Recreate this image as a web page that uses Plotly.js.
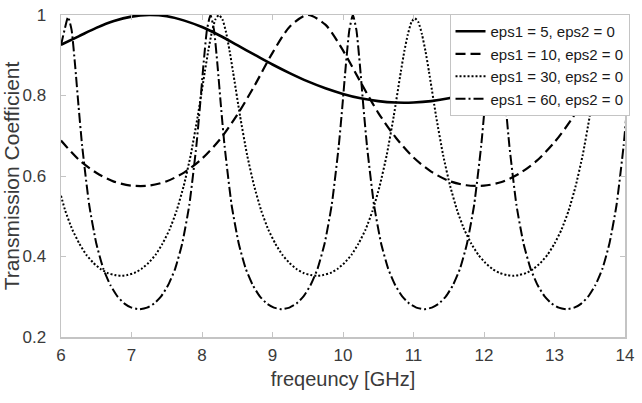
<!DOCTYPE html>
<html>
<head>
<meta charset="utf-8">
<script src="https://cdn.plot.ly/plotly-3.0.1.min.js"></script>
<style>html,body{margin:0;padding:0;background:#fff;}#chart{width:642px;height:403px;}</style>
</head>
<body>
<div id="chart"></div>
<script>
// ---- data ----
const seriesNames = ["eps1 = 5, eps2 = 0", "eps1 = 10, eps2 = 0", "eps1 = 30, eps2 = 0", "eps1 = 60, eps2 = 0"];

const freq5 = [6,6.25,6.5,6.75,7,7.25,7.5,7.75,8,8.25,8.5,8.75,9,9.25,9.5,9.75,10,10.25,10.5,10.75,11,11.25,11.5,11.75,12,12.25,12.5,12.75,13,13.25,13.5,13.75,14];
const trans5 = [0.926,0.947,0.968,0.985,0.996,1.000,0.997,0.986,0.970,0.949,0.925,0.901,0.877,0.855,0.835,0.818,0.804,0.793,0.786,0.7825,0.7826,0.786,0.793,0.804,0.818,0.836,0.856,0.878,0.902,0.927,0.950,0.970,0.987];

const freq10 = [6,6.25,6.5,6.75,7,7.25,7.5,7.75,8,8.25,8.5,8.75,9,9.25,9.5,9.75,10,10.25,10.5,10.75,11,11.25,11.5,11.75,12,12.25,12.5,12.75,13,13.25,13.5,13.75,14];
const trans10 = [0.688,0.641,0.608,0.586,0.576,0.576,0.587,0.609,0.643,0.690,0.752,0.826,0.906,0.972,1.000,0.976,0.912,0.833,0.757,0.695,0.646,0.611,0.588,0.577,0.576,0.585,0.606,0.638,0.684,0.743,0.817,0.897,0.966];

const freq30 = [6.00,6.06,6.16,6.26,6.36,6.46,6.56,6.66,6.76,6.85,
6.94,7.04,7.14,7.24,7.34,7.44,7.54,7.64,7.74,7.84,7.94,8.04,8.09,8.14,8.19,8.24,
8.29,8.34,8.39,8.44,8.54,8.64,8.74,8.84,8.94,9.04,9.14,9.24,9.34,9.44,9.54,9.63,
9.72,9.82,9.92,10.02,10.12,10.22,10.32,10.42,10.52,10.62,10.72,10.82,10.87,10.92,10.97,11.02,
11.07,11.12,11.17,11.22,11.32,11.42,11.52,11.62,11.72,11.82,11.92,12.02,12.12,12.22,12.32,12.41,
12.50,12.60,12.70,12.80,12.90,13.00,13.10,13.20,13.30,13.40,13.50,13.60,13.65,13.70,13.75,13.80,
13.85,13.90,13.95,14.00];
const trans30 = [0.551,0.514,0.467,0.432,0.404,0.384,0.369,0.359,0.354,0.352,
0.354,0.359,0.369,0.384,0.404,0.432,0.467,0.514,0.575,0.652,0.749,0.859,0.912,0.958,0.989,1.000,
0.989,0.958,0.912,0.859,0.749,0.652,0.575,0.514,0.467,0.432,0.404,0.384,0.369,0.359,0.354,0.352,
0.354,0.359,0.369,0.384,0.404,0.432,0.467,0.514,0.575,0.652,0.749,0.859,0.910,0.952,0.982,0.992,
0.982,0.952,0.910,0.859,0.749,0.652,0.575,0.514,0.467,0.432,0.404,0.384,0.369,0.359,0.354,0.352,
0.354,0.359,0.369,0.384,0.404,0.432,0.467,0.514,0.575,0.652,0.749,0.859,0.912,0.958,0.989,1.000,
0.989,0.958,0.912,0.859];

const freq60 = [6.00,6.05,6.10,
6.15,6.20,6.25,6.30,6.40,6.50,6.60,6.70,6.80,6.90,7.00,7.11,
7.22,7.32,7.42,7.52,7.62,7.72,7.82,7.92,7.97,8.02,8.07,8.12,
8.17,8.22,8.27,8.32,8.42,8.52,8.62,8.72,8.82,8.92,9.02,9.13,
9.24,9.34,9.44,9.54,9.64,9.74,9.84,9.94,9.99,10.04,10.09,10.14,
10.19,10.24,10.29,10.34,10.44,10.54,10.64,10.74,10.84,10.94,11.04,11.15,
11.26,11.36,11.46,11.56,11.66,11.76,11.86,11.96,12.01,12.06,12.11,12.16,
12.21,12.26,12.31,12.36,12.46,12.56,12.66,12.76,12.86,12.96,13.06,13.17,
13.28,13.38,13.48,13.58,13.68,13.78,13.88,13.98,14.03];
const trans60 = [0.925,0.963,0.995,
0.963,0.875,0.771,0.675,0.528,0.433,0.370,0.329,0.301,0.283,0.273,0.269,
0.273,0.283,0.301,0.329,0.370,0.433,0.528,0.675,0.771,0.875,0.963,1.000,
0.963,0.875,0.771,0.675,0.528,0.433,0.370,0.329,0.301,0.283,0.273,0.269,
0.273,0.283,0.301,0.329,0.370,0.433,0.528,0.675,0.771,0.875,0.963,1.000,
0.963,0.875,0.771,0.675,0.528,0.433,0.370,0.329,0.301,0.283,0.273,0.269,
0.273,0.283,0.301,0.329,0.370,0.433,0.528,0.675,0.771,0.875,0.963,1.000,
0.963,0.875,0.771,0.675,0.528,0.433,0.370,0.329,0.301,0.283,0.273,0.269,
0.273,0.283,0.301,0.329,0.370,0.433,0.528,0.675,0.771];

// ---- chart ----
const FONT = 'Liberation Sans, Arial, Helvetica, sans-serif';
const traces = [
  {x: freq5, y: trans5, name: seriesNames[0], mode: 'lines',
   line: {color: '#000', width: 2.6, dash: 'solid', shape: 'spline', smoothing: 0.8}},
  {x: freq10, y: trans10, name: seriesNames[1], mode: 'lines',
   line: {color: '#000', width: 2.2, dash: '10px,5px', shape: 'spline', smoothing: 0.8}},
  {x: freq30, y: trans30, name: seriesNames[2], mode: 'lines',
   line: {color: '#000', width: 2, dash: '2px,2px', shape: 'spline', smoothing: 0.5}},
  {x: freq60, y: trans60, name: seriesNames[3], mode: 'lines',
   line: {color: '#000', width: 2, dash: '10px,3px,2px,3px', shape: 'spline', smoothing: 0.5}}
];

const axisCommon = {
  showgrid: false, zeroline: false, showline: true, mirror: 'ticks',
  linecolor: '#c4c4c4', linewidth: 1.5,
  ticks: 'inside', ticklen: 5, tickcolor: '#c4c4c4', tickwidth: 1,
  tickfont: {family: FONT, size: 17, color: '#3a3a3a'}
};

const layout = {
  width: 642, height: 403,
  margin: {l: 61, r: 13, t: 15, b: 66},
  paper_bgcolor: '#fff', plot_bgcolor: '#fff',
  font: {family: FONT, color: '#3a3a3a'},
  showlegend: true,
  xaxis: Object.assign({}, axisCommon, {
    range: [6, 14], dtick: 1, tick0: 6,
    ticklabelstandoff: 2,
    title: {text: 'freqeuncy [GHz]', font: {family: FONT, size: 20, color: '#3a3a3a'}, standoff: 8}
  }),
  yaxis: Object.assign({}, axisCommon, {
    range: [0.2, 1], dtick: 0.2, tick0: 0.2,
    ticklabelstandoff: 10,
    title: {text: 'Transmission Coefficient', font: {family: FONT, size: 21, color: '#3a3a3a'}, standoff: 2}
  }),
  legend: {
    x: 1.008, xanchor: 'right', y: 1.003, yanchor: 'top',
    bgcolor: '#fff', bordercolor: '#c4c4c4', borderwidth: 1,
    font: {family: FONT, size: 15, color: '#1a1a1a'},
    itemwidth: 30, tracegroupgap: 0
  }
};

Plotly.newPlot('chart', traces, layout, {staticPlot: true, displayModeBar: false});
</script>
</body>
</html>
